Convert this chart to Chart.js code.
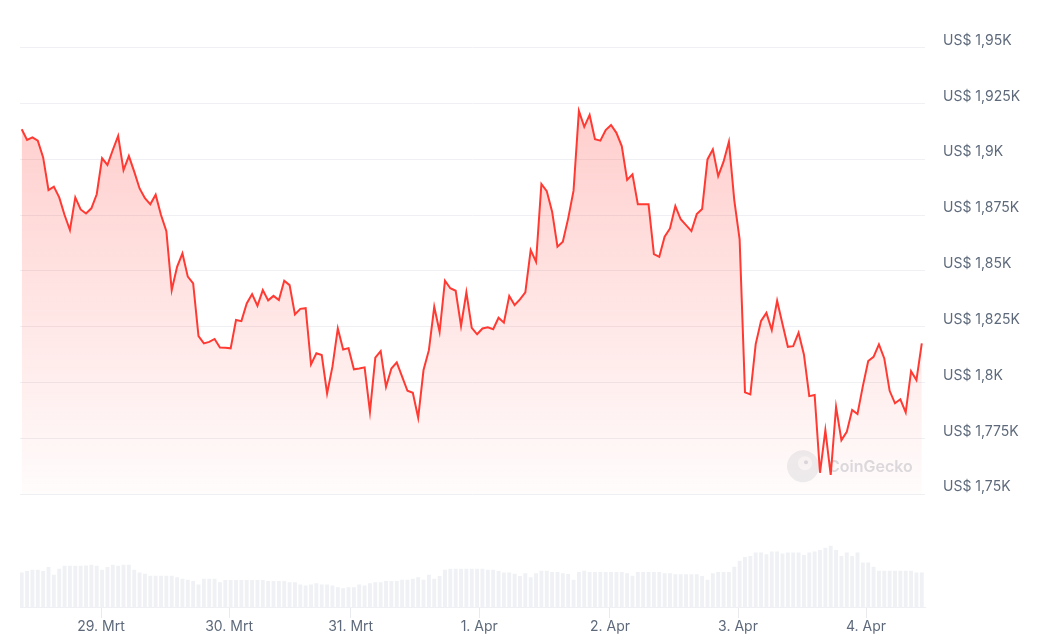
<!DOCTYPE html>
<html>
<head>
<meta charset="utf-8">
<script src="https://cdn.jsdelivr.net/npm/chart.js@4.4.1/dist/chart.umd.min.js"></script>
<style>
  html, body { margin: 0; padding: 0; background: #ffffff; }
  #wrap { width: 1049px; height: 640px; position: relative; }
</style>
</head>
<body>
<div id="wrap"><canvas id="c" width="1049" height="640"></canvas></div>
<script>
// ---------- DATA ----------
// hourly price samples, 28 Mrt ~09:00 -> 4 Apr ~10:00 (US$)
const prices = [
  1913.4, 1908.6, 1909.8, 1908.3, 1900.8, 1886.2, 1887.7, 1882.9, 1875.0, 1868.3,
  1882.9, 1877.5, 1875.7, 1878.0, 1884.3, 1900.4, 1897.4, 1904.1, 1910.4, 1895.1,
  1901.4, 1894.4, 1886.9, 1882.5, 1879.8, 1884.1, 1875.0, 1867.8, 1841.4, 1851.8,
  1857.8, 1847.4, 1844.4, 1820.8, 1817.5, 1818.2, 1819.5, 1815.7, 1815.6, 1815.3,
  1828.0, 1827.5, 1835.4, 1839.6, 1834.4, 1841.4, 1836.8, 1838.8, 1836.9, 1845.6,
  1843.6, 1830.5, 1833.0, 1833.3, 1808.1, 1813.1, 1812.3, 1795.1, 1807.1, 1824.2,
  1814.8, 1815.4, 1805.9, 1806.3, 1806.8, 1786.9, 1811.1, 1814.1, 1798.1, 1806.3,
  1809.0, 1802.6, 1796.3, 1795.4, 1784.2, 1805.6, 1814.5, 1833.9, 1822.7, 1845.6,
  1842.2, 1841.1, 1825.3, 1840.4, 1824.5, 1821.6, 1824.2, 1824.7, 1823.9, 1829.0,
  1826.8, 1838.7, 1834.7, 1837.2, 1840.4, 1859.3, 1854.1, 1888.9, 1885.7, 1876.5,
  1860.8, 1863.0, 1873.5, 1885.9, 1921.6, 1914.5, 1919.8, 1908.9, 1908.3, 1913.0,
  1915.3, 1911.8, 1905.9, 1890.7, 1893.2, 1879.8, 1879.8, 1879.8, 1857.5, 1856.3,
  1865.3, 1869.0, 1879.0, 1873.1, 1870.5, 1867.8, 1875.4, 1877.7, 1899.9, 1904.4,
  1892.4, 1898.9, 1907.8, 1881.7, 1864.1, 1795.6, 1794.7, 1817.2, 1827.6, 1831.2,
  1823.5, 1836.6, 1826.2, 1816.0, 1816.3, 1822.3, 1812.6, 1793.9, 1794.4, 1759.6,
  1778.7, 1758.6, 1789.1, 1774.2, 1777.9, 1787.7, 1785.9, 1798.4, 1809.6, 1811.5,
  1817.1, 1810.8, 1796.3, 1790.7, 1792.5, 1786.6, 1805.1, 1801.1, 1817.5
];

// hourly traded volume (relative units)
const volumes = [
  105, 109, 113, 113, 109, 121,  98, 116, 125, 125,
  125, 125, 126, 128, 125, 113, 121, 128, 125, 128,
  128, 113, 105, 101,  95,  95,  95,  95,  95,  90,
   86,  83,  79,  68,  86,  86,  86,  75,  82,  82,
   82,  82,  82,  82,  82,  82,  79,  79,  79,  79,
   75,  75,  68,  65,  68,  72,  68,  68,  65,  60,
   57,  60,  60,  68,  65,  72,  75,  75,  79,  79,
   79,  83,  83,  86,  90,  83,  98,  86,  94, 113,
  116, 116, 116, 116, 116, 116, 116, 113, 113, 109,
  105, 105, 101,  94, 102,  90, 102, 110, 110, 106,
  106, 102, 100,  83, 106, 110, 106, 106, 106, 106,
  106, 106, 106, 102,  95, 106, 106, 106, 106, 106,
  102, 102,  99,  99,  99,  99,  99,  94,  83, 102,
  106, 106, 106, 122, 140, 152, 155, 165, 165, 160,
  168, 168, 162, 165, 165, 165, 158, 165, 168, 173,
  180, 186, 173, 155, 165, 155, 165, 135, 135, 122,
  110, 110, 110, 110, 110, 110, 110, 105, 105
];

// day boundaries (position in samples) and their labels
const dayTickSamples = [14.8, 38.7, 61.4, 85.4, 109.8, 133.7, 157.6];
const dayLabels = ['29. Mrt', '30. Mrt', '31. Mrt', '1. Apr', '2. Apr', '3. Apr', '4. Apr'];

// price axis ticks and labels
const priceTicks = [1750, 1775, 1800, 1825, 1850, 1875, 1900, 1925, 1950];
const priceTickLabels = ['US$ 1,75K', 'US$ 1,775K', 'US$ 1,8K', 'US$ 1,825K', 'US$ 1,85K',
                         'US$ 1,875K', 'US$ 1,9K', 'US$ 1,925K', 'US$ 1,95K'];
const fillBase = 1750;

// ---------- CHART ----------
const TEXT = '#5e6a7b';
const GRID = '#eef0f3';
const LINE = '#ff3a33';

const pricePts = prices.map((v, i) => ({ x: i, y: v }));
const volPts = volumes.map((v, i) => ({ x: i, y: v }));

const watermark = {
  id: 'watermark',
  beforeDatasetsDraw(chart) {
    const { ctx, chartArea, scales } = chart;
    const yb = scales.y.getPixelForValue(fillBase);
    const cx = chartArea.right - 122, cy = yb - 28;
    ctx.save();
    ctx.fillStyle = 'rgba(222,225,229,0.55)';
    ctx.beginPath(); ctx.arc(cx, cy, 16, 0, Math.PI * 2); ctx.fill();
    ctx.fillStyle = 'rgba(255,255,255,0.6)';
    ctx.beginPath(); ctx.arc(cx + 2, cy - 3, 7, 0, Math.PI * 2); ctx.fill();
    ctx.fillStyle = 'rgba(200,204,209,0.7)';
    ctx.beginPath(); ctx.arc(cx + 3, cy - 4, 2, 0, Math.PI * 2); ctx.fill();
    ctx.font = '600 16px Inter, "Noto Sans", sans-serif';
    ctx.fillStyle = 'rgba(205,209,215,0.75)';
    ctx.textBaseline = 'middle';
    ctx.textAlign = 'left';
    ctx.fillText('CoinGecko', cx + 25, cy + 1);
    ctx.restore();
  }
};

const ctx = document.getElementById('c').getContext('2d');
new Chart(ctx, {
  data: {
    datasets: [
      {
        type: 'line',
        data: pricePts,
        yAxisID: 'y',
        borderColor: LINE,
        borderWidth: 2,
        pointRadius: 0,
        tension: 0,
        fill: { value: fillBase },
        backgroundColor: (c) => {
          const ch = c.chart;
          const area = ch.chartArea;
          if (!area) return 'rgba(255,58,51,0.15)';
          const yb = ch.scales.y.getPixelForValue(fillBase);
          const g = ch.ctx.createLinearGradient(0, 105, 0, yb);
          g.addColorStop(0, 'rgba(255,58,51,0.25)');
          g.addColorStop(1, 'rgba(255,58,51,0.015)');
          return g;
        },
        order: 1
      },
      {
        type: 'bar',
        data: volPts,
        yAxisID: 'yv',
        backgroundColor: '#eff1f4',
        borderWidth: 0,
        barPercentage: 0.72,
        categoryPercentage: 1,
        order: 2
      }
    ]
  },
  options: {
    responsive: false,
    animation: false,
    layout: { padding: { left: 20, top: 20, right: 0, bottom: 0 } },
    plugins: { legend: { display: false }, tooltip: { enabled: false } },
    scales: {
      x: {
        type: 'linear',
        min: -0.32,
        max: 168.6,
        offset: false,
        afterBuildTicks: (s) => { s.ticks = dayTickSamples.map(v => ({ value: v })); },
        afterFit: (s) => { s.height = 33; },
        ticks: {
          autoSkip: false,
          maxRotation: 0,
          padding: 0,
          color: TEXT,
          font: { family: 'Inter, "Noto Sans", sans-serif', size: 14 },
          callback: (v, i) => dayLabels[i]
        },
        grid: { display: true, offset: false, drawOnChartArea: false, drawTicks: true, tickLength: 11, color: '#e8eaee' },
        border: { display: true, color: '#eef0f3' }
      },
      y: {
        type: 'linear',
        position: 'right',
        min: 1699.5,
        max: 1959.45,
        afterBuildTicks: (s) => { s.ticks = priceTicks.map(v => ({ value: v })); },
        afterFit: (s) => { s.width = 124; },
        ticks: {
          padding: 18,
          labelOffset: -7,
          color: TEXT,
          font: { family: 'Inter, "Noto Sans", sans-serif', size: 14 },
          callback: (v, i) => priceTickLabels[i]
        },
        grid: { color: GRID, drawTicks: false, lineWidth: 1 },
        border: { display: false }
      },
      yv: {
        type: 'linear',
        display: false,
        min: 0,
        max: 1761
      }
    }
  },
  plugins: [watermark]
});
</script>
</body>
</html>
